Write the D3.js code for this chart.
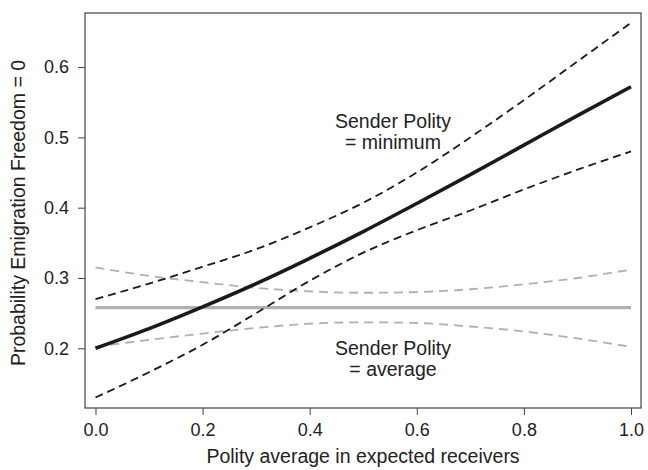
<!DOCTYPE html>
<html><head><meta charset="utf-8">
<script src="https://cdn.jsdelivr.net/npm/d3@7"></script>
<style>body{margin:0;background:#fff}svg text{font-family:"Liberation Sans",Arial,sans-serif;fill:#222}</style>
</head><body>
<svg id="c" width="648" height="470"></svg>
<script>
const xs = [0,0.1,0.2,0.3,0.4,0.5,0.6,0.7,0.8,0.9,1.0];
const minFit   = [0.200,0.228,0.259,0.292,0.328,0.366,0.406,0.447,0.489,0.531,0.572];
const minUpper = [0.270,0.292,0.316,0.341,0.372,0.407,0.450,0.500,0.553,0.608,0.663];
const minLower = [0.130,0.166,0.205,0.250,0.296,0.336,0.368,0.396,0.426,0.454,0.480];
const avgFit   = [0.258,0.258,0.258,0.258,0.258,0.258,0.258,0.258,0.258,0.258,0.258];
const avgUpper = [0.315,0.303,0.294,0.286,0.281,0.279,0.280,0.284,0.291,0.300,0.312];
const avgLower = [0.202,0.212,0.221,0.229,0.235,0.237,0.236,0.231,0.224,0.214,0.202];
const xTicks = [0,0.2,0.4,0.6,0.8,1.0];
const yTicks = [0.2,0.3,0.4,0.5,0.6];

const L=85,R=641,T=13,B=408;
const x = d3.scaleLinear().domain([-0.0196,1.0187]).range([L,R]);
const y = d3.scaleLinear().domain([0.1151,0.6769]).range([B,T]);
const svg = d3.select("#c");

const line = d3.line().x((d,i)=>x(xs[i])).y(d=>y(d)).curve(d3.curveMonotoneX);
function draw(data,color,w,dash){
  svg.append("path").attr("d",line(data)).attr("fill","none").attr("stroke",color)
    .attr("stroke-width",w).attr("stroke-dasharray",dash||null).attr("stroke-linecap","butt");
}
draw(avgUpper,"#b0b0b0",1.8,"9,6");
draw(avgLower,"#b0b0b0",1.8,"9,6");
draw(avgFit,"#b0b0b0",3.2);
draw(minUpper,"#1a1a1a",1.8,"8,5");
draw(minLower,"#1a1a1a",1.8,"8,5");
draw(minFit,"#1a1a1a",3.6);

svg.append("rect").attr("x",L).attr("y",T).attr("width",R-L).attr("height",B-T)
  .attr("fill","none").attr("stroke","#444").attr("stroke-width",1.2);

const xa = svg.append("g").attr("transform",`translate(0,${B})`)
  .call(d3.axisBottom(x).tickValues(xTicks).tickFormat(d3.format(".1f")).tickSizeInner(7).tickSizeOuter(0).tickPadding(8));
const ya = svg.append("g").attr("transform",`translate(${L},0)`)
  .call(d3.axisLeft(y).tickValues(yTicks).tickFormat(d3.format(".1f")).tickSizeInner(7).tickSizeOuter(0).tickPadding(9));
[xa,ya].forEach(a=>{a.select(".domain").remove();a.selectAll("line").attr("stroke","#444");
  a.selectAll("text").attr("font-size",18).style("fill","#222");});

svg.append("text").attr("x",363).attr("y",463).attr("text-anchor","middle").attr("font-size",19.5)
  .text("Polity average in expected receivers");
svg.append("text").attr("transform","translate(25,213) rotate(-90)").attr("text-anchor","middle").attr("font-size",19.5)
  .text("Probability Emigration Freedom = 0");

const ann=[["Sender Polity",393,128],["= minimum",393,149],["Sender Polity",393,355],["= average",393,376]];
ann.forEach(a=>svg.append("text").attr("x",a[1]).attr("y",a[2]).attr("text-anchor","middle").attr("font-size",19.5).text(a[0]));
</script>
</body></html>
